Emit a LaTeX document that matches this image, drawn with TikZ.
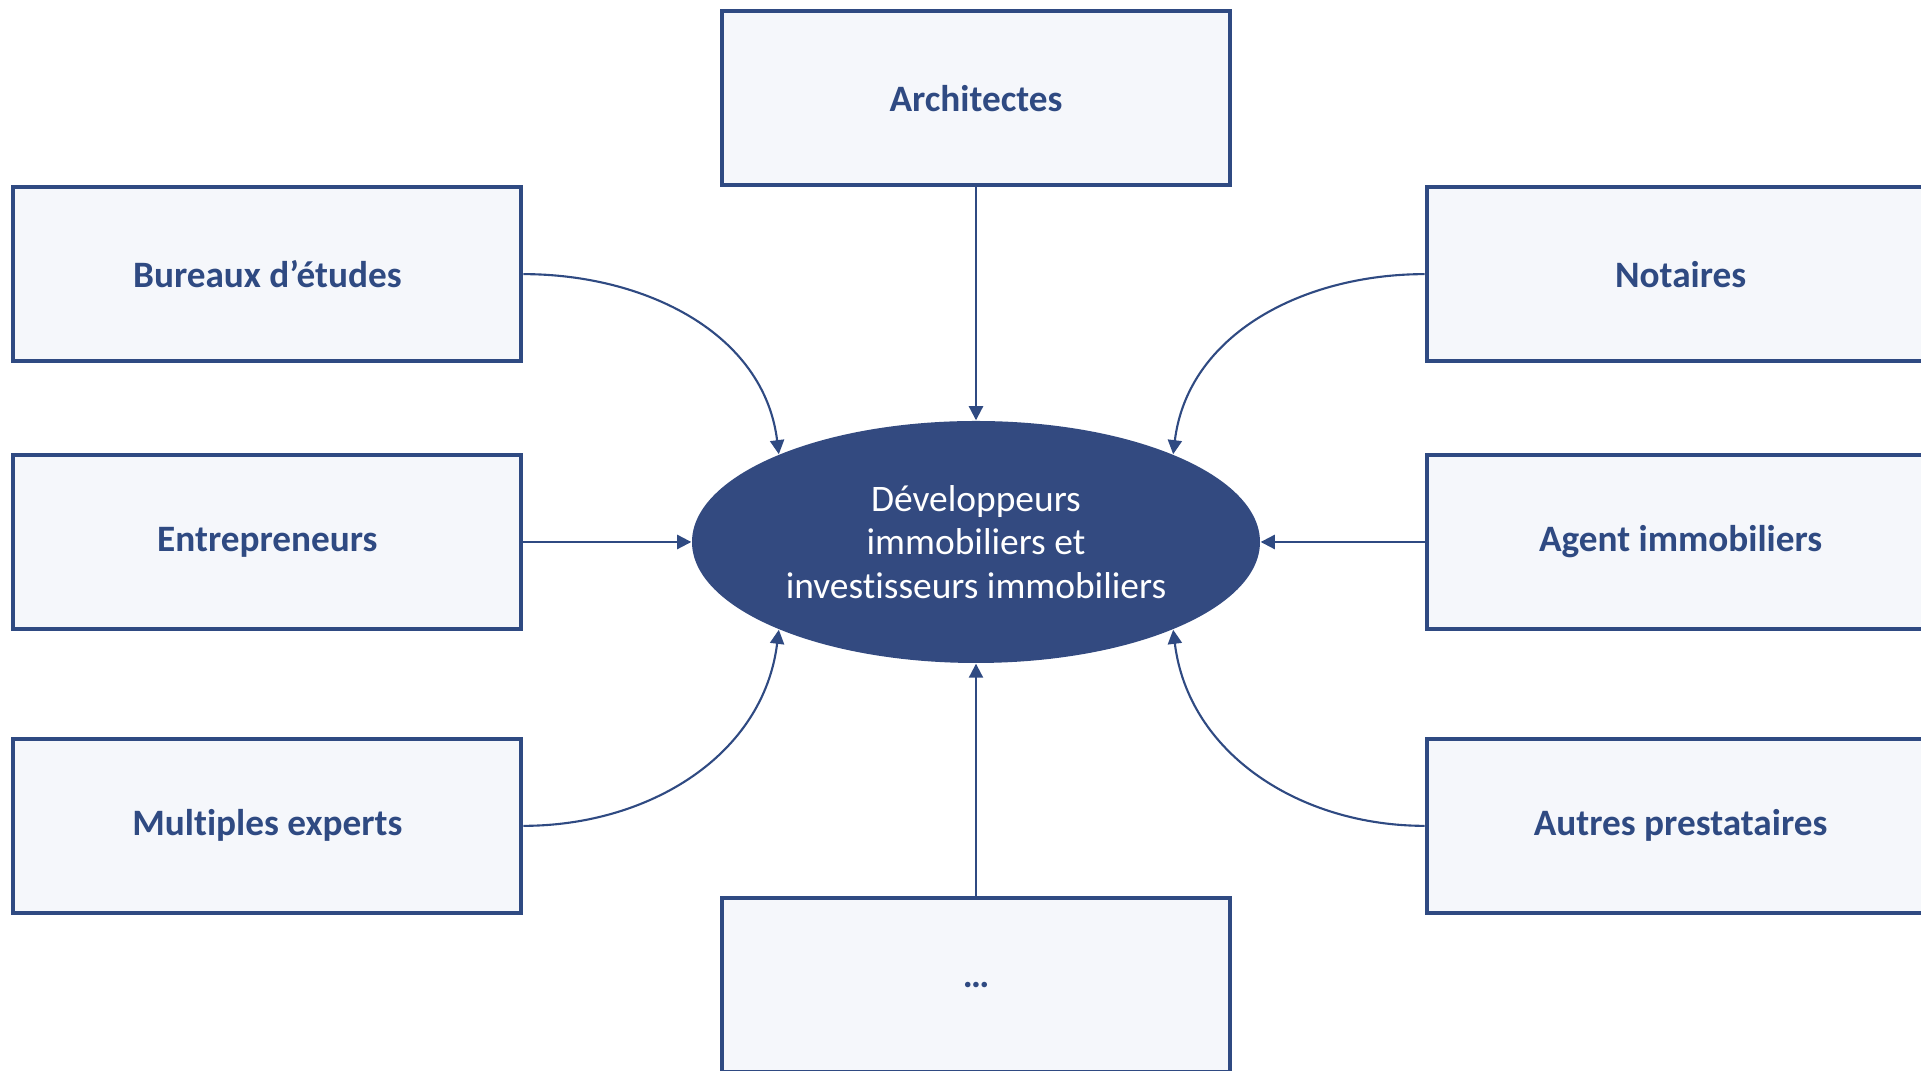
\documentclass[tikz,border=0pt]{standalone}
\usepackage{fontspec}
\setmainfont[Ligatures=NoCommon]{Carlito}
\usepackage{tikz}
\usetikzlibrary{arrows.meta,positioning,shapes.geometric}
\definecolor{darkblue}{HTML}{2F4A82}
\definecolor{ellblue}{HTML}{334A80}
\definecolor{boxfill}{HTML}{F5F7FB}

\begin{document}
\begin{tikzpicture}[
    mybox/.style={
    rectangle,
    draw=darkblue,
    fill=boxfill,
    line width=1.1pt,
    text=darkblue,
    minimum width=5.08cm,
    minimum height=1.74cm,
    inner sep=0pt,
    font=\fontsize{10.6}{12.6}\selectfont\bfseries},
    myellipse/.style={
    ellipse,
    fill=ellblue,
    text=white,
    align=center,
    inner sep=0pt,
    minimum width=5.68cm,
    minimum height=2.42cm,
    font=\fontsize{10.65}{12.4}\selectfont},
    myarrow/.style={-{Triangle[length=4pt,width=4pt]},draw=darkblue,line width=0.6pt}
    ]
    \useasboundingbox (0,0) rectangle (19.21,10.71);

    \node[myellipse] (dev) at (9.76,5.29) {D\'eveloppeurs\\immobiliers et\\investisseurs immobiliers};

    \node[mybox, left=1.68cm of dev] (entr) {Entrepreneurs};
    \node[mybox, above=0.90cm of entr] (bur) {Bureaux d’\'etudes};
    \node[mybox, below=1.06cm of entr] (mult) {Multiples experts};

    \node[mybox, right=1.64cm of dev] (agent) {Agent immobiliers};
    \node[mybox, above=0.90cm of agent] (nota) {Notaires};
    \node[mybox, below=1.06cm of agent] (autres) {Autres prestataires};

    \node[mybox, above=2.33cm of dev] (arch) {Architectes};
    \node[mybox, below=2.32cm of dev] (etc) {…};

    \draw[myarrow] (arch) -- (dev);
    \draw[myarrow] (etc) -- (dev);
    \draw[myarrow] (entr) -- (dev);
    \draw[myarrow] (agent) -- (dev);

    \draw[myarrow] (bur.east) to[out=0, in=97] (dev.156);
    \draw[myarrow] (nota.west) to[out=180, in=83] (dev.24);
    \draw[myarrow] (mult.east) to[out=0, in=-97] (dev.204);
    \draw[myarrow] (autres.west) to[out=180, in=-83] (dev.-24);
\end{tikzpicture}
\end{document}
